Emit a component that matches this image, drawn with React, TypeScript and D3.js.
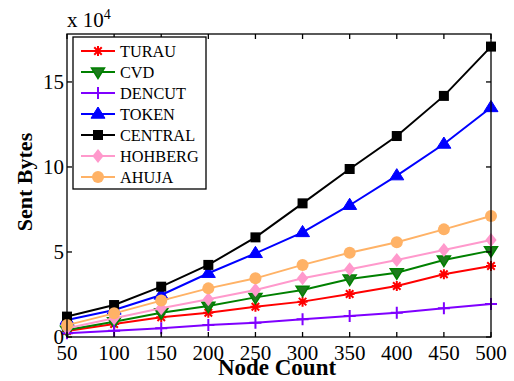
import React, { useEffect, useRef } from "react";
import * as d3 from "d3";

// node counts on the x axis
const nodeCounts = [50, 100, 150, 200, 250, 300, 350, 400, 450, 500];

// sent bytes, in units of 10^4
const turau = [0.35, 0.76, 1.16, 1.43, 1.78, 2.08, 2.53, 3.0, 3.69, 4.18];
const cvd = [0.41, 0.9, 1.43, 1.82, 2.33, 2.76, 3.41, 3.78, 4.53, 5.08];
const dencut = [0.22, 0.37, 0.51, 0.7, 0.84, 1.04, 1.24, 1.43, 1.69, 1.94];
const token = [1.0, 1.59, 2.47, 3.75, 4.92, 6.15, 7.75, 9.49, 11.35, 13.5];
const central = [1.2, 1.88, 2.96, 4.24, 5.86, 7.86, 9.88, 11.82, 14.18, 17.08];
const hohberg = [0.51, 1.1, 1.69, 2.22, 2.76, 3.45, 3.98, 4.53, 5.12, 5.71];
const ahuja = [0.7, 1.39, 2.14, 2.86, 3.45, 4.24, 4.96, 5.57, 6.33, 7.12];

const yTicks = [0, 5, 10, 15];

const seriesNames = ["TURAU", "CVD", "DENCUT", "TOKEN", "CENTRAL", "HOHBERG", "AHUJA"];
const seriesValues = [turau, cvd, dencut, token, central, hohberg, ahuja];
const seriesColors = ["#ff0000", "#008000", "#7f00ff", "#0000ff", "#000000", "#ff99cc", "#ffb266"];
const seriesMarkers = ["star", "down", "plus", "up", "square", "diamond", "circle"];

const FONT = "Liberation Serif, serif";

function drawMarker(g: any, kind: string, x: number, y: number, color: string) {
  if (kind === "star") {
    const r = 5;
    const p = "M" + (x - r) + "," + y + "H" + (x + r) +
      "M" + x + "," + (y - r) + "V" + (y + r) +
      "M" + (x - r * 0.75) + "," + (y - r * 0.75) + "L" + (x + r * 0.75) + "," + (y + r * 0.75) +
      "M" + (x - r * 0.75) + "," + (y + r * 0.75) + "L" + (x + r * 0.75) + "," + (y - r * 0.75);
    g.append("path").attr("d", p).attr("stroke", color).attr("stroke-width", 2).attr("fill", "none");
  } else if (kind === "plus") {
    const r = 6;
    const p = "M" + (x - r) + "," + y + "H" + (x + r) + "M" + x + "," + (y - r) + "V" + (y + r);
    g.append("path").attr("d", p).attr("stroke", color).attr("stroke-width", 2).attr("fill", "none");
  } else if (kind === "down") {
    const r = 6.5;
    const p = "M" + (x - r) + "," + (y - r * 0.6) + "L" + (x + r) + "," + (y - r * 0.6) + "L" + x + "," + (y + r * 1.0) + "Z";
    g.append("path").attr("d", p).attr("fill", "#1e7a1e").attr("stroke", color).attr("stroke-width", 1.5);
  } else if (kind === "up") {
    const r = 7;
    const p = "M" + (x - r) + "," + (y + r * 0.6) + "L" + (x + r) + "," + (y + r * 0.6) + "L" + x + "," + (y - r * 1.0) + "Z";
    g.append("path").attr("d", p).attr("fill", color).attr("stroke", color).attr("stroke-width", 1);
  } else if (kind === "square") {
    const r = 5;
    g.append("rect").attr("x", x - r).attr("y", y - r).attr("width", 2 * r).attr("height", 2 * r).attr("fill", color);
  } else if (kind === "diamond") {
    const r = 7;
    const p = "M" + x + "," + (y - r) + "L" + (x + r * 0.8) + "," + y + "L" + x + "," + (y + r) + "L" + (x - r * 0.8) + "," + y + "Z";
    g.append("path").attr("d", p).attr("fill", color);
  } else {
    g.append("circle").attr("cx", x).attr("cy", y).attr("r", 6).attr("fill", color);
  }
}

export default function App() {
  const ref = useRef<SVGSVGElement>(null);

  useEffect(() => {
    const svg = d3.select(ref.current);
    svg.selectAll("*").remove();

    const left = 67, right = 491, top = 34, bottom = 337;

    const x = d3.scaleLinear().domain([50, 500]).range([left, right]);
    const y = d3.scaleLinear().domain([0, 17.82]).range([bottom, top]);

    svg.append("rect").attr("width", 514).attr("height", 381).attr("fill", "white");

    // lines and markers
    const line = d3.line<number>()
      .x((d, i) => x(nodeCounts[i]))
      .y((d) => y(d));

    seriesValues.forEach((vals, si) => {
      const g = svg.append("g");
      g.append("path")
        .attr("d", line(vals))
        .attr("fill", "none")
        .attr("stroke", seriesColors[si])
        .attr("stroke-width", 2);
      vals.forEach((v, i) => drawMarker(g, seriesMarkers[si], x(nodeCounts[i]), y(v), seriesColors[si]));
    });

    // box with inward ticks
    const axes = svg.append("g").attr("stroke", "black").attr("stroke-width", 1.3);
    axes.append("rect")
      .attr("x", left).attr("y", top)
      .attr("width", right - left).attr("height", bottom - top)
      .attr("fill", "none");
    nodeCounts.forEach((n) => {
      axes.append("line").attr("x1", x(n)).attr("x2", x(n)).attr("y1", bottom).attr("y2", bottom - 5);
      axes.append("line").attr("x1", x(n)).attr("x2", x(n)).attr("y1", top).attr("y2", top + 5);
    });
    yTicks.forEach((t) => {
      axes.append("line").attr("x1", left).attr("x2", left + 5).attr("y1", y(t)).attr("y2", y(t));
      axes.append("line").attr("x1", right).attr("x2", right - 5).attr("y1", y(t)).attr("y2", y(t));
    });

    // tick labels
    svg.append("g").selectAll("text").data(nodeCounts).enter().append("text")
      .attr("x", (d) => x(d)).attr("y", bottom + 23)
      .attr("text-anchor", "middle")
      .attr("font-family", FONT).attr("font-size", 21)
      .text((d) => d);
    svg.append("g").selectAll("text").data(yTicks).enter().append("text")
      .attr("x", left - 3).attr("y", (d) => y(d) + 7)
      .attr("text-anchor", "end")
      .attr("font-family", FONT).attr("font-size", 21)
      .text((d) => d);

    // exponent label
    const ex = svg.append("text").attr("x", left).attr("y", 27)
      .attr("font-family", FONT).attr("font-size", 21);
    ex.append("tspan").text("x 10");
    ex.append("tspan").attr("dy", -8).attr("font-size", 14).text("4");

    // axis titles
    svg.append("text")
      .attr("x", (left + right) / 2 - 2).attr("y", 375)
      .attr("text-anchor", "middle")
      .attr("font-family", FONT).attr("font-size", 23).attr("font-weight", "bold")
      .text("Node Count");
    svg.append("text")
      .attr("transform", "translate(32," + 182 + ") rotate(-90)")
      .attr("text-anchor", "middle")
      .attr("font-family", FONT).attr("font-size", 22).attr("font-weight", "bold")
      .text("Sent Bytes");

    // legend
    const lg = svg.append("g");
    lg.append("rect")
      .attr("x", 73).attr("y", 37)
      .attr("width", 133).attr("height", 152)
      .attr("fill", "white").attr("stroke", "black").attr("stroke-width", 1.3);
    seriesNames.forEach((name, i) => {
      const ly = 51 + i * 21;
      lg.append("line")
        .attr("x1", 81).attr("x2", 115).attr("y1", ly).attr("y2", ly)
        .attr("stroke", seriesColors[i]).attr("stroke-width", 2);
      drawMarker(lg, seriesMarkers[i], 98, ly, seriesColors[i]);
      lg.append("text")
        .attr("x", 120).attr("y", ly + 6)
        .attr("font-family", FONT).attr("font-size", 16.3)
        .text(name);
    });
  }, []);

  return (
    <div style={{ position: "absolute", left: 0, top: 0 }}>
      <svg ref={ref} width={514} height={381} style={{ display: "block" }} />
    </div>
  );
}
